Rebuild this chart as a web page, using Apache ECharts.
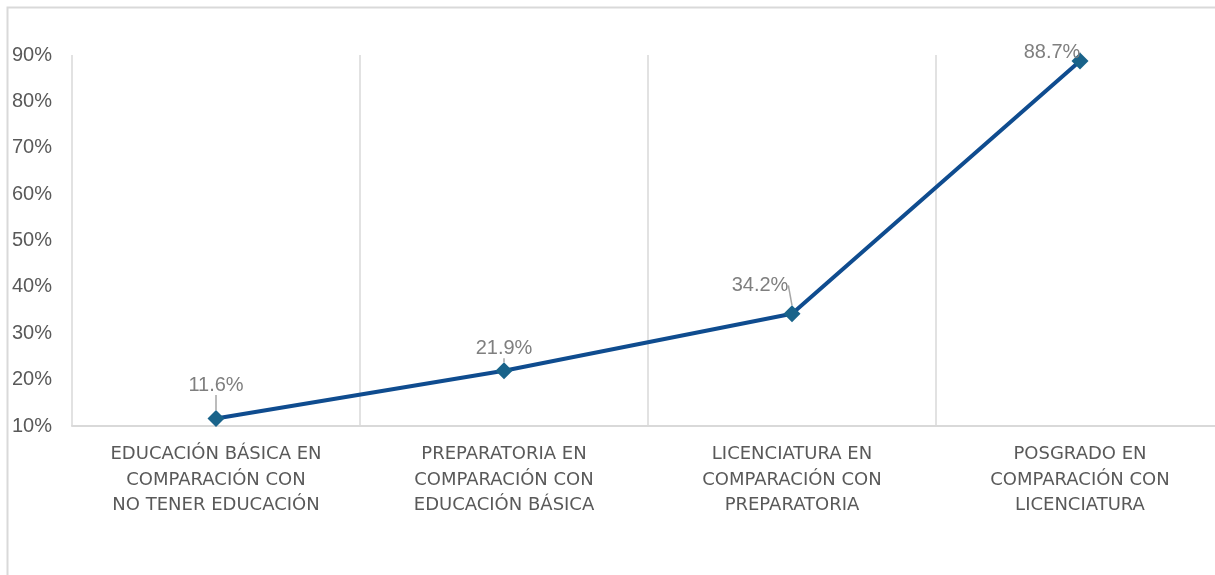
<!DOCTYPE html>
<html>
<head>
<meta charset="utf-8">
<script src="https://cdn.jsdelivr.net/npm/echarts@6/dist/echarts.min.js"></script>
<style>
  html, body { margin: 0; padding: 0; background: #fff; overflow: hidden; }
  /* plot runs a little past the right edge of the window, as in the source */
  #chart { width: 1224px; height: 575px; }
</style>
</head>
<body>
<div id="chart"></div>
<script>
const categories = [
  "EDUCACIÓN BÁSICA EN\nCOMPARACIÓN CON\nNO TENER EDUCACIÓN",
  "PREPARATORIA EN\nCOMPARACIÓN CON\nEDUCACIÓN BÁSICA",
  "LICENCIATURA EN\nCOMPARACIÓN CON\nPREPARATORIA",
  "POSGRADO EN\nCOMPARACIÓN CON\nLICENCIATURA"
];
const values = [11.6, 21.9, 34.2, 88.7];
// where each label sits relative to its point (Excel moved some of them)
const labelShift = [[0, -10], [0, 1], [-32, -5], [-28, 15]];

const chart = echarts.init(document.getElementById("chart"));

chart.setOption({
  animation: false,
  graphic: [
    {
      type: "rect",
      shape: { x: 7.5, y: 7.5, width: 1400, height: 800 },
      style: { fill: null, stroke: "#d9d9d9", lineWidth: 2 },
      silent: true
    }
  ],
  grid: {
    left: 72,
    top: 55,
    right: 0,
    height: 371
  },
  xAxis: {
    type: "category",
    data: categories,
    boundaryGap: true,
    axisLine: { lineStyle: { color: "#d9d9d9", width: 2 } },
    axisTick: { show: false },
    splitLine: { show: true, lineStyle: { color: "#d9d9d9", width: 1.5 } },
    axisLabel: {
      interval: 0,
      margin: 16,
      color: "#595959",
      fontSize: 18,
      lineHeight: 25.5,
      fontFamily: "DejaVu Sans"
    }
  },
  yAxis: {
    type: "value",
    min: 10,
    max: 90,
    interval: 10,
    axisLine: { show: false },
    axisTick: { show: false },
    splitLine: { show: false },
    axisLabel: {
      formatter: "{value}%",
      color: "#595959",
      fontSize: 20,
      margin: 20,
      fontFamily: "Liberation Sans"
    }
  },
  series: [
    {
      type: "line",
      data: values,
      symbol: "diamond",
      symbolSize: 17,
      itemStyle: { color: "#19638a" },
      lineStyle: { color: "#0f4c8f", width: 4 },
      label: {
        show: true,
        position: "top",
        distance: 5,
        color: "#7f7f7f",
        fontSize: 20,
        fontFamily: "Liberation Sans",
        formatter: p => p.value.toFixed(1) + "%"
      },
      labelLine: {
        show: true,
        lineStyle: { color: "#a6a6a6", width: 1.5 }
      },
      labelLayout: p => ({
        dx: labelShift[p.dataIndex][0],
        dy: labelShift[p.dataIndex][1]
      })
    }
  ]
});
</script>
</body>
</html>
